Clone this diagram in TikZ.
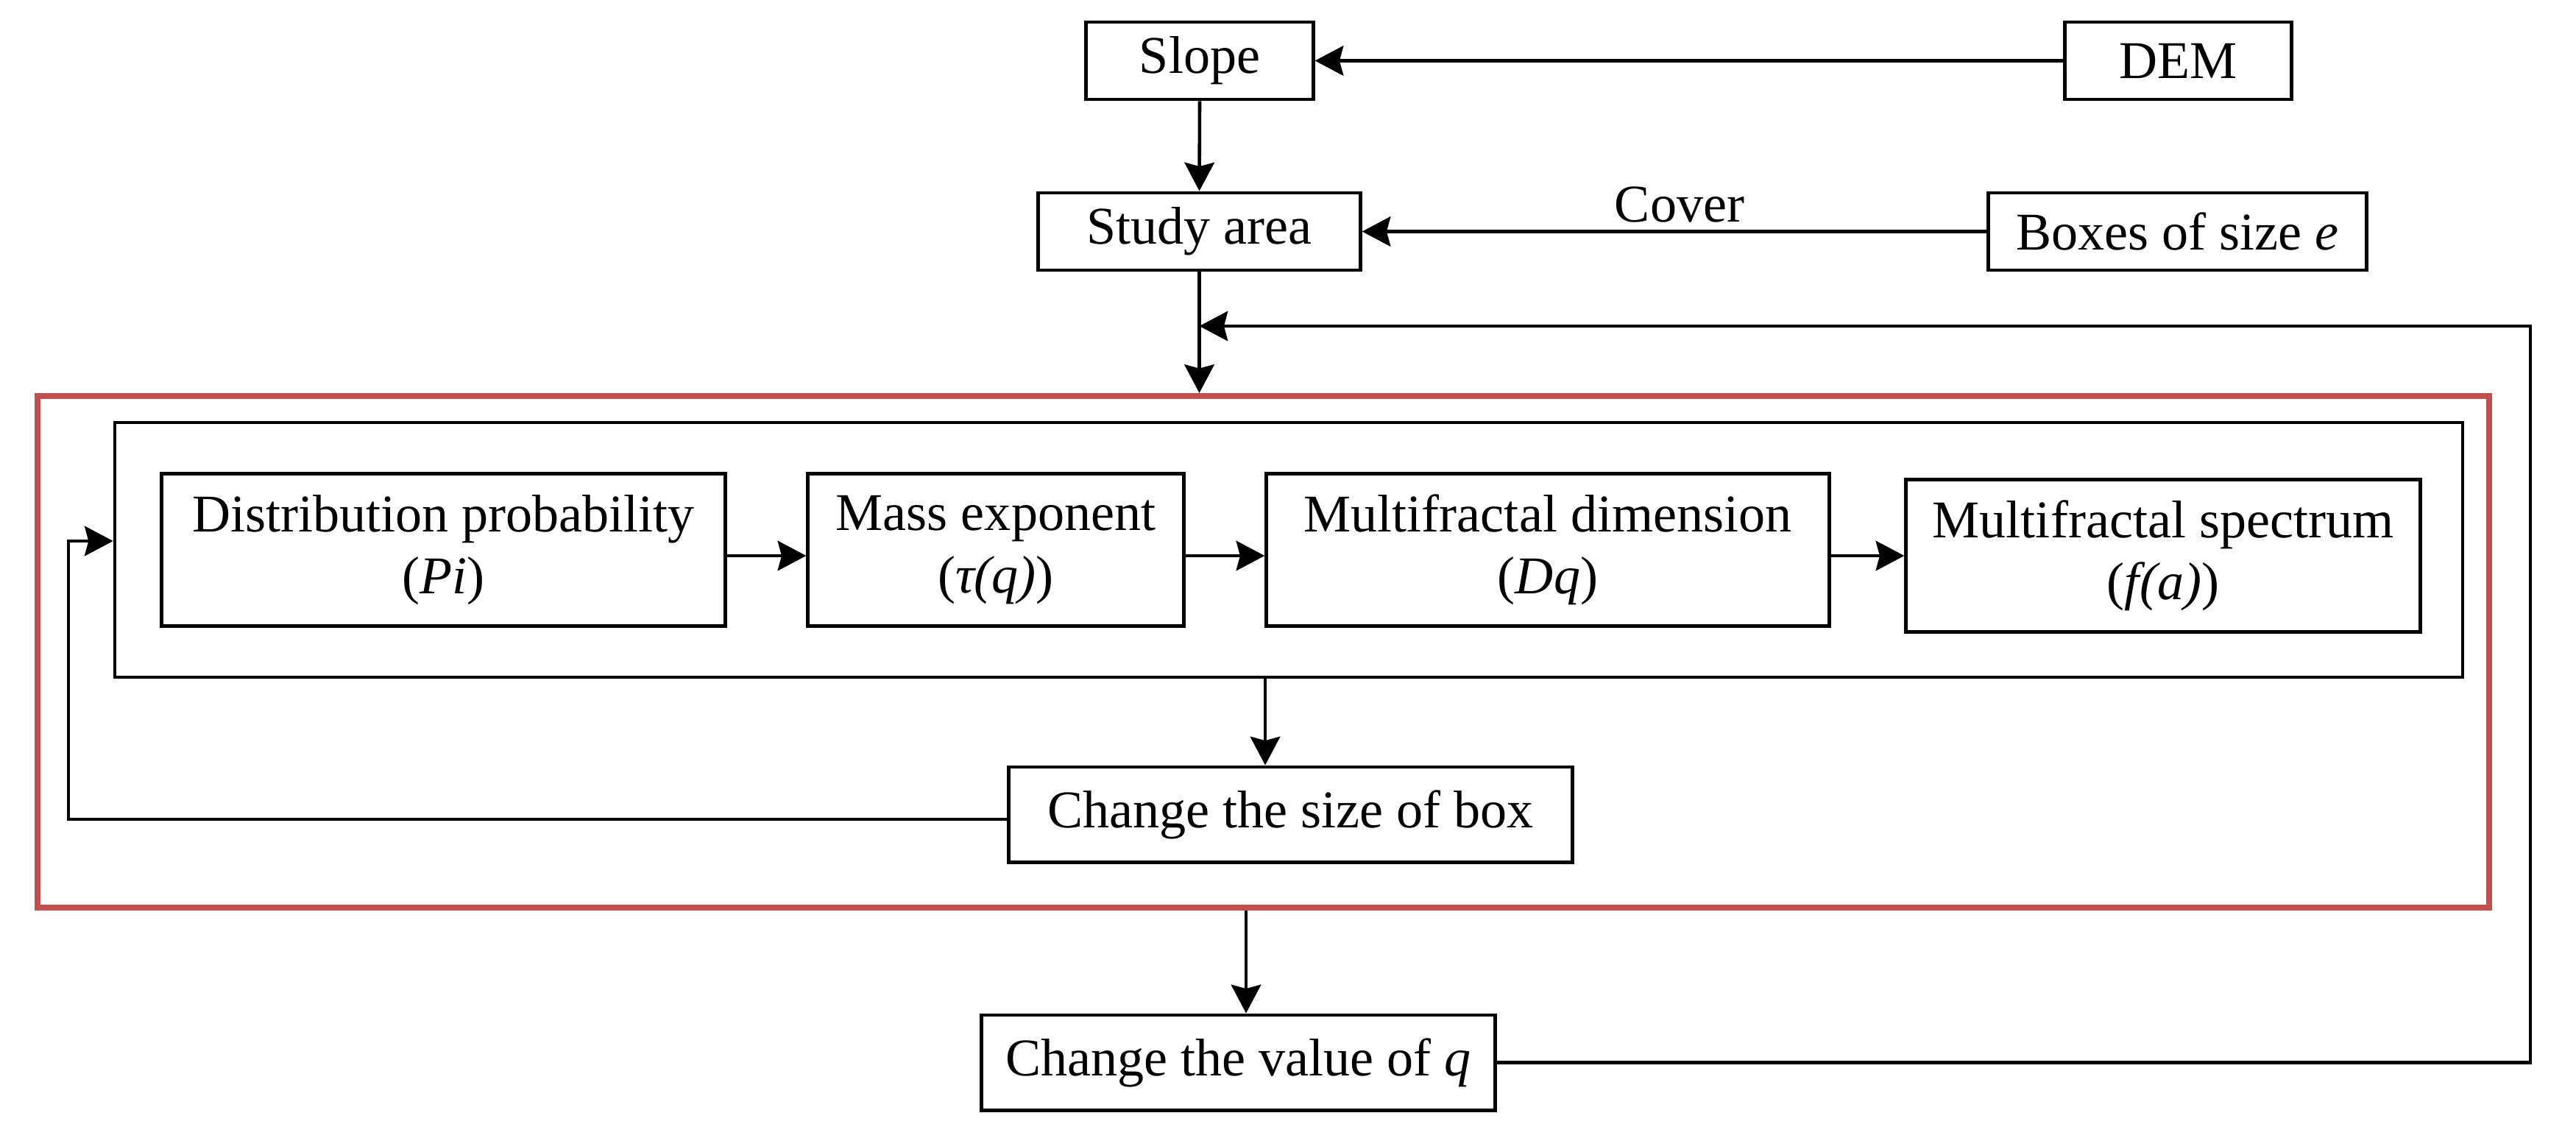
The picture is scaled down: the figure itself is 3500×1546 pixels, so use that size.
\documentclass[tikz,border=0pt]{standalone}
\usepackage{fontspec}
\setmainfont{Liberation Serif}
\usetikzlibrary{arrows.meta}
\definecolor{boxred}{HTML}{C0504D}
\begin{document}
\begin{tikzpicture}[x=0.01cm,y=-0.01cm,
  box/.style={draw, line width=1.4pt, inner sep=0pt, align=center,
    font=\fontsize{20.5}{24}\selectfont},
  frame/.style={draw, line width=1.35pt, inner sep=0pt},
  redframe/.style={draw=boxred, line width=2.2pt, inner sep=0pt},
  conn/.style={line width=1.3pt, -{Stealth[length=11pt,width=11.5pt,inset=1.5pt]}},
  lbl/.style={font=\fontsize{20.5}{24}\selectfont, inner sep=0pt}]
\useasboundingbox (0,0) rectangle (3500,1546);
% containers
\node[redframe, minimum width=33.29cm, minimum height=6.95cm] (red) at (1716.5,885.5) {};
\node[frame, minimum width=31.88cm, minimum height=3.46cm] (inner) at (1751,747) {};
% top boxes
\node[box, minimum width=3.08cm, minimum height=1.05cm] (slope) at (1630,82.5) {Slope};
\node[box, minimum width=3.07cm, minimum height=1.05cm] (dem) at (2959.5,82.5) {DEM};
\node[box, minimum width=4.37cm, minimum height=1.05cm] (study) at (1629.5,314.5) {Study area};
\node[box, minimum width=5.13cm, minimum height=1.05cm] (boxes) at (2958.5,314.5) {Boxes of size \textit{e}};
\node[lbl, anchor=base] (cover) at (2282,302) {Cover};
% inner boxes
\node[box, minimum width=7.65cm, minimum height=2.06cm] (dist) at (602.5,747) {Distribution probability\\(\textit{Pi})};
\node[box, minimum width=5.10cm, minimum height=2.06cm] (mass) at (1353,747) {Mass exponent\\(\textit{τ(q)})};
\node[box, minimum width=7.64cm, minimum height=2.06cm] (dim) at (2103,747) {Multifractal dimension\\(\textit{Dq})};
\node[box, minimum width=6.98cm, minimum height=2.06cm] (spec) at (2939,755) {Multifractal spectrum\\(\textit{f(a)})};
% lower boxes
\node[box, minimum width=7.65cm, minimum height=1.29cm] (chsize) at (1753.5,1106.5) {Change the size of box};
\node[box, minimum width=6.97cm, minimum height=1.29cm] (chval) at (1682.5,1443.5) {Change the value of \textit{q}};
% helper coordinates
\coordinate (ay) at (0,755);
\coordinate (a1) at (1719,0);
\coordinate (a2) at (1693,0);
\coordinate (lp) at (93,1113);
\coordinate (lq) at (93,735);
\coordinate (fb) at (3438,443);
% connectors
\draw[conn] (dem.west) -- (slope.east);
\draw[conn] (slope.south) -- (study.north);
\draw[conn] (boxes.west) -- (study.east);
\draw[conn] (study.south) -- (study.south |- red.north);
\draw[conn] (dist.east |- ay) -- (mass.west |- ay);
\draw[conn] (mass.east |- ay) -- (dim.west |- ay);
\draw[conn] (dim.east |- ay) -- (spec.west |- ay);
\draw[conn] (inner.south -| a1) -- (chsize.north -| a1);
\draw[conn] (chsize.west |- lp) -- (lp) -- (lq) -- (inner.west |- lq);
\draw[conn] (red.south -| a2) -- (chval.north -| a2);
\draw[conn] (chval.east) -- (chval.east -| fb) -- (fb) -- (study.south |- fb);
\end{tikzpicture}
\end{document}
